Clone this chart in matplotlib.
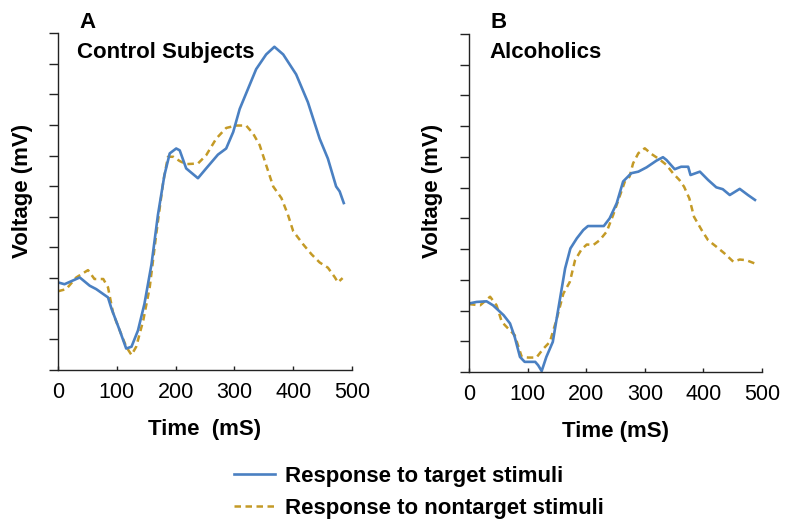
import matplotlib
matplotlib.use("Agg")
import matplotlib.pyplot as plt
from matplotlib.lines import Line2D

plt.rcParams['font.family'] = ['Liberation Sans', 'DejaVu Sans']

BLUE = '#4a80c2'
GOLD = '#c49a26'
DASH = (0, (2.6, 1.8))

# panel A - control subjects
a_target_t = [0, 11, 37, 54, 65, 85, 91, 105, 116, 125, 136, 147, 159, 170, 181, 190, 201, 207,
              218, 238, 252, 272, 286, 298, 309, 323, 337, 354, 368, 383, 405, 425, 445, 459,
              473, 479, 486]
a_target_v = [2.86, 2.80, 3.02, 2.75, 2.64, 2.37, 2.0, 1.29, 0.70, 0.76, 1.29, 2.16, 3.45, 5.07,
              6.36, 7.07, 7.23, 7.17, 6.58, 6.26, 6.58, 7.03, 7.23, 7.77, 8.52, 9.17, 9.82, 10.30,
              10.55, 10.30, 9.65, 8.74, 7.55, 6.90, 5.99, 5.83, 5.45]
a_nontarget_t = [0, 14, 31, 51, 62, 77, 85, 94, 105, 116, 125, 133, 145, 156, 167, 179, 187, 196,
                 207, 218, 238, 252, 269, 286, 303, 320, 332, 343, 354, 366, 380, 391, 400, 417,
                 431, 445, 459, 471, 476, 484]
a_nontarget_v = [2.57, 2.64, 3.02, 3.26, 2.97, 2.97, 2.70, 1.83, 1.29, 0.76, 0.49, 0.76, 1.62, 2.70,
                 4.42, 6.15, 6.96, 6.96, 6.82, 6.72, 6.74, 7.01, 7.55, 7.90, 7.98, 7.98, 7.71, 7.34,
                 6.69, 5.99, 5.61, 5.07, 4.53, 4.10, 3.78, 3.51, 3.34, 3.02, 2.86, 3.00]

# panel B - alcoholics
b_target_t = [0, 13, 30, 41, 59, 70, 78, 87, 95, 113, 118, 124, 132, 143, 152, 164, 173, 184, 195,
              203, 218, 230, 240, 252, 263, 277, 289, 303, 320, 331, 337, 351, 362, 374, 378, 394,
              408, 422, 433, 445, 462, 476, 488]
b_target_v = [2.23, 2.28, 2.30, 2.17, 1.85, 1.58, 1.14, 0.49, 0.33, 0.33, 0.22, 0.03, 0.49, 0.98,
              2.01, 3.37, 4.02, 4.35, 4.62, 4.75, 4.75, 4.75, 5.0, 5.49, 6.20, 6.47, 6.52, 6.66,
              6.88, 6.99, 6.90, 6.60, 6.68, 6.68, 6.41, 6.52, 6.25, 6.01, 5.95, 5.76, 5.96, 5.76,
              5.60]
b_nontarget_t = [0, 19, 36, 47, 56, 67, 78, 90, 101, 115, 127, 138, 149, 161, 172, 181, 192, 201,
                 212, 223, 235, 246, 257, 266, 274, 280, 289, 300, 311, 325, 337, 348, 359, 367,
                 376, 384, 397, 408, 422, 436, 451, 462, 473, 488]
b_nontarget_v = [2.21, 2.17, 2.45, 2.17, 1.63, 1.41, 1.20, 0.49, 0.47, 0.47, 0.76, 0.98, 1.68, 2.55,
                 2.93, 3.64, 3.99, 4.15, 4.13, 4.29, 4.57, 5.11, 5.71, 6.20, 6.36, 6.79, 7.12, 7.28,
                 7.10, 6.92, 6.74, 6.47, 6.25, 6.03, 5.65, 5.05, 4.62, 4.29, 4.08, 3.86, 3.59, 3.66,
                 3.64, 3.53]

x_ticks = [0, 100, 200, 300, 400, 500]
y_ticks = list(range(12))

fig = plt.figure(figsize=(7.92, 5.31), dpi=100)
W, H = 792, 531


def px(x0, y0, x1, y1):
    return [x0 / W, 1 - y1 / H, (x1 - x0) / W, (y1 - y0) / H]


axA = fig.add_axes(px(58, 33, 352, 370))
axB = fig.add_axes(px(469, 34, 762, 372))

# (axes, data..., letter, title, xlabel, letter xy, title xy, ylabel right edge) in pixels
panels = [
    (axA, a_target_t, a_target_v, a_nontarget_t, a_nontarget_v, 'A', 'Control Subjects',
     'Time  (mS)', (79, 28), (77, 58), 33),
    (axB, b_target_t, b_target_v, b_nontarget_t, b_nontarget_v, 'B', 'Alcoholics',
     'Time (mS)', (491, 28), (489, 58), 443),
]

for ax, tt, tv, nt, nv, letter, title, xlab, lxy, txy, yl_x in panels:
    ax.plot(nt, nv, color=GOLD, lw=1.8, ls=DASH)
    ax.plot(tt, tv, color=BLUE, lw=1.9)
    ax.set_xlim(0, 500)
    ax.set_ylim(0, 11)
    ax.set_xticks(x_ticks)
    ax.set_yticks(y_ticks)
    ax.set_yticklabels([])
    ax.spines['top'].set_visible(False)
    ax.spines['right'].set_visible(False)
    for s in ('left', 'bottom'):
        ax.spines[s].set_linewidth(1.0)
        ax.spines[s].set_color('#222222')
    ax.tick_params(axis='y', direction='out', length=6.5, width=1.0, color='#222222')
    ax.tick_params(axis='x', direction='in', length=3, width=1.0, color='#222222',
                   labelsize=15.5, pad=8.5)
    ax.set_xlabel(xlab, fontsize=16, fontweight='bold', labelpad=12)
    ax.set_ylabel('Voltage (mV)', fontsize=16, fontweight='bold')
    bb = ax.get_position()
    ax.yaxis.set_label_coords((yl_x / W - bb.x0) / bb.width,
                              ((1 - 191 / H) - bb.y0) / bb.height)
    fig.text(lxy[0] / W, 1 - lxy[1] / H, letter, fontsize=16, fontweight='bold',
             ha='left', va='baseline')
    fig.text(txy[0] / W, 1 - txy[1] / H, title, fontsize=16, fontweight='bold',
             ha='left', va='baseline')

handles = [
    Line2D([], [], color=BLUE, lw=1.9),
    Line2D([], [], color=GOLD, lw=1.8, ls=DASH),
]
labels = ['Response to target stimuli', 'Response to nontarget stimuli']
fig.legend(handles, labels, loc='upper left', bbox_to_anchor=(234 / W, 1 - 466 / H),
           frameon=False, prop={'weight': 'bold', 'size': 16}, handlelength=1.85,
           handletextpad=0.45, labelspacing=0.5, borderpad=0, borderaxespad=0)

fig.savefig('out.png', dpi=100)
